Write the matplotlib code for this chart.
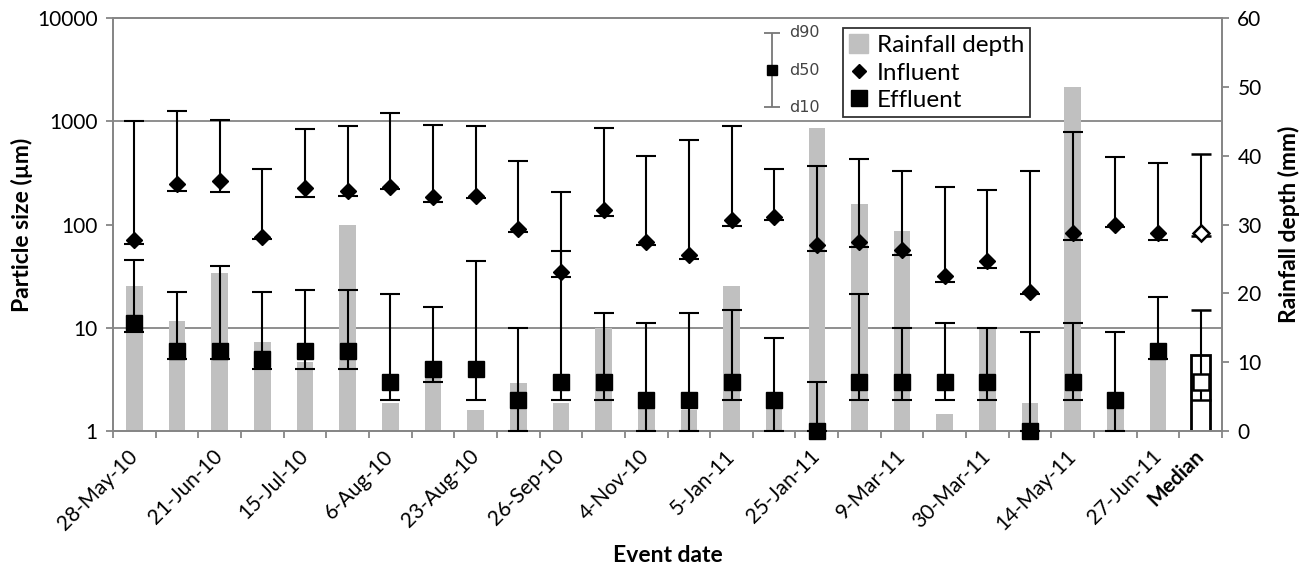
import matplotlib
matplotlib.use("Agg")
import matplotlib.pyplot as plt
import numpy as np
from matplotlib.lines import Line2D
from matplotlib.patches import Patch

plt.rcParams['font.family'] = ['Lato', 'DejaVu Sans']

# axis labels: only every second event carries a date on the axis
tick_labels = ["28-May-10", "", "21-Jun-10", "", "15-Jul-10", "", "6-Aug-10", "",
               "23-Aug-10", "", "26-Sep-10", "", "4-Nov-10", "", "5-Jan-11", "",
               "25-Jan-11", "", "9-Mar-11", "", "30-Mar-11", "", "14-May-11", "",
               "27-Jun-11", "Median"]

# rainfall depth per event (mm)
rain_mm = [21, 16, 23, 13, 10, 30, 4, 8, 3, 7, 4, 15, 5, 3, 21, 5, 44, 33, 29,
           2.5, 15, 4, 50, 4, 11]

# influent particle size (um): d10, d50, d90
inf_d10 = [65, 211, 208, 72, 183, 188, 220, 166, 180, 85, 31, 122, 64, 46, 97,
           110, 56, 60, 51, 28, 38, 21, 71, 95, 71]
inf_d50 = [70, 245, 264, 76, 224, 212, 232, 186, 189, 90, 35, 138, 68, 51, 110,
           117, 63, 68, 57, 32, 44, 22, 82, 100, 82]
inf_d90 = [1000, 1265, 1036, 345, 847, 906, 1202, 920, 893, 412, 208, 860, 464,
           662, 893, 343, 369, 434, 332, 232, 216, 330, 792, 448, 392]

# effluent particle size (um): d10, d50, d90
eff_d10 = [9, 5, 5, 4, 4, 4, 2, 3, 2, 1, 2, 2, 1, 1, 2, 1, 1, 2, 2, 2, 2, 1, 2,
           1, 5]
eff_d50 = [11, 6, 6, 5, 6, 6, 3, 4, 4, 2, 3, 3, 2, 2, 3, 2, 1, 3, 3, 3, 3, 1, 3,
           2, 6]
eff_d90 = [45, 22, 40, 22, 23, 23, 21, 16, 44, 10, 55, 14, 11, 14, 15, 8, 3, 21,
           10, 11, 10, 9, 11, 9, 20]

# medians as shown in the last column
med_rain = 11
med_inf = [78, 82, 482]
med_eff = [2, 3, 15]

size_ticks = [1, 10, 100, 1000, 10000]
rain_ticks = [0, 10, 20, 30, 40, 50, 60]

GRID = "#868686"
BAR = "#c0c0c0"
FS = 15
LFS = 16.5

fig = plt.figure(figsize=(13.09, 5.73), dpi=100)
ax = fig.add_axes([0.0863, 0.2478, 0.8473, 0.7208])
ax2 = ax.twinx()
ax.set_zorder(ax2.get_zorder() + 1)
ax.patch.set_visible(False)

x = np.arange(len(rain_mm))
x_med = len(rain_mm)

# rainfall bars on the right axis, behind everything
ax2.bar(x, rain_mm, width=0.39, color=BAR, zorder=2)
ax2.bar([x_med], [med_rain], width=0.45, facecolor="white", edgecolor="black",
        linewidth=2, zorder=2)
ax2.set_ylim(rain_ticks[0], rain_ticks[-1])
ax2.set_yticks(rain_ticks)
ax2.set_yticklabels([str(t) for t in rain_ticks], fontsize=FS)

# horizontal grid at the decades of the left axis, drawn under the bars
lo, hi = np.log10(size_ticks[0]), np.log10(size_ticks[-1])
grid_mm = [rain_ticks[-1] * (np.log10(t) - lo) / (hi - lo) for t in size_ticks[1:-1]]
ax2.set_yticks(grid_mm, minor=True)
ax2.yaxis.grid(True, which="minor", color=GRID, linewidth=1.3)
ax2.tick_params(axis="y", which="minor", length=0)
ax2.set_axisbelow(True)
ax2.set_ylabel("Rainfall depth (mm)", fontsize=LFS, fontweight="bold", labelpad=12)

# particle sizes on the left (log) axis
def err(d10, d50, d90):
    d10, d50, d90 = map(np.asarray, (d10, d50, d90))
    return [d50 - d10, d90 - d50]

eb_kw = dict(ecolor="black", elinewidth=1.5, capsize=7, capthick=1.5,
             clip_on=False, zorder=3)
ax.errorbar(x, inf_d50, yerr=err(inf_d10, inf_d50, inf_d90), fmt="D",
            color="black", ms=8, **eb_kw)
ax.errorbar(x, eff_d50, yerr=err(eff_d10, eff_d50, eff_d90), fmt="s",
            color="black", ms=11, **eb_kw)
ax.errorbar([x_med], [med_inf[1]], yerr=err([med_inf[0]], [med_inf[1]], [med_inf[2]]),
            fmt="D", mfc="white", mec="black", mew=1.8, ms=8, **eb_kw)
ax.errorbar([x_med], [med_eff[1]], yerr=err([med_eff[0]], [med_eff[1]], [med_eff[2]]),
            fmt="s", mfc="white", mec="black", mew=1.8, ms=11, **eb_kw)

ax.set_yscale("log")
ax.set_ylim(size_ticks[0], size_ticks[-1])
ax.set_yticks(size_ticks)
ax.set_yticklabels([str(t) for t in size_ticks], fontsize=FS)
ax.yaxis.set_minor_locator(matplotlib.ticker.NullLocator())
ax.set_ylabel("Particle size (\u00b5m)", fontsize=LFS, fontweight="bold", labelpad=3)

ax.set_xlim(-0.5, x_med + 0.5)
ax.set_xticks(np.arange(x_med + 1))
ax.set_xticklabels(tick_labels, fontsize=FS, rotation=45, ha="right",
                   va="center", rotation_mode="anchor")
ax.get_xticklabels()[-1].set_fontweight("bold")
ax.set_xticks(np.arange(x_med + 2) - 0.5, minor=True)
ax.tick_params(axis="x", which="major", length=0, pad=16)
ax.tick_params(axis="x", which="minor", length=5, color=GRID, width=1.3)
ax.set_xlabel("Event date", fontsize=LFS, fontweight="bold", labelpad=8)

for a in (ax, ax2):
    for s in a.spines.values():
        s.set_color(GRID)
        s.set_linewidth(1.3)
    a.tick_params(axis="y", which="major", length=5, color=GRID, width=1.3, pad=6)

handles = [Patch(color=BAR),
           Line2D([], [], marker="D", color="black", ls="none", ms=7.5),
           Line2D([], [], marker="s", color="black", ls="none", ms=12)]
leg = ax.legend(handles, ["Rainfall depth", "Influent", "Effluent"],
                loc="upper left", bbox_to_anchor=(0.658, 0.976), fontsize=17.5,
                frameon=True, fancybox=False, borderaxespad=0, borderpad=0.25,
                handlelength=0.8, handleheight=0.8, handletextpad=0.35,
                labelspacing=0.25)
leg.get_frame().set_edgecolor("black")
leg.get_frame().set_linewidth(1.3)

# key for the error bars, beside the legend
key = fig.add_axes([0.578, 0.80, 0.06, 0.155])
key.set_axis_off()
key.set_xlim(0, 1)
key.set_ylim(0, 1)
key.errorbar([0.2], [0.5], yerr=[[0.42], [0.42]], fmt="s", color="black",
             ms=7, ecolor="#777777", elinewidth=1.3, capsize=6, capthick=1.3)
for yy, txt in [(0.92, "d90"), (0.5, "d50"), (0.08, "d10")]:
    key.text(0.42, yy, txt, fontsize=11.5, color="#444444", va="center",
             family="DejaVu Sans")

fig.savefig("out.png", dpi=100)
